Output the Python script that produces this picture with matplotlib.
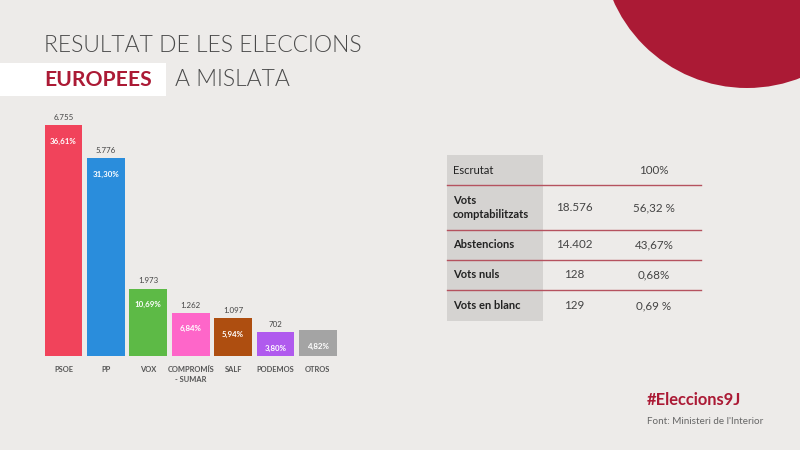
import matplotlib
matplotlib.use("Agg")
import matplotlib.pyplot as plt
from matplotlib.patches import Rectangle, Circle

# ---- data ----
parties = ["PSOE", "PP", "VOX", "COMPROMÍS\n- SUMAR", "SALF", "PODEMOS", "OTROS"]
votes = [6755, 5776, 1973, 1262, 1097, 702, 750]
vote_labels = ["6.755", "5.776", "1.973", "1.262", "1.097", "702", ""]
pct_labels = ["36,61%", "31,30%", "10,69%", "6,84%", "5,94%", "3,80%", "4,82%"]
bar_colors = ["#F1435B", "#2A8DDC", "#5DBA46", "#FE66C9", "#AE4E10", "#B05AEE", "#A4A4A4"]

table_labels = ["Escrutat", "Vots\ncomptabilitzats", "Abstencions", "Vots nuls", "Vots en blanc"]
table_counts = ["", "18.576", "14.402", "128", "129"]
table_pcts = ["100%", "56,32 %", "43,67%", "0,68%", "0,69 %"]

BG = "#EDEBE9"
RED = "#AB1A35"
FONT = ["Lato", "DejaVu Sans"]
plt.rcParams['font.family'] = FONT

W, H = 800, 450
fig = plt.figure(figsize=(8, 4.5), dpi=100, facecolor=BG)

# overlay axes in pixel coordinates for layout elements
ov = fig.add_axes([0, 0, 1, 1], facecolor=BG)
ov.set_xlim(0, W)
ov.set_ylim(H, 0)
ov.axis("off")

# red circle top right
ov.add_patch(Circle((747, -58), 146, color=RED, lw=0, zorder=1))

# titles
ov.text(44, 46, "RESULTAT DE LES ELECCIONS", fontsize=16.5, fontweight=300,
        color="#4A4A4A", va="center", ha="left")
ov.add_patch(Rectangle((0, 63), 166, 33, color="white", lw=0))
ov.text(44, 80, "EUROPEES", fontsize=15.2, fontweight="bold", color=RED,
        va="center", ha="left")
ov.text(175, 80, "A MISLATA", fontsize=16.5, fontweight=300, color="#4A4A4A",
        va="center", ha="left")

# table
row_edges = [155, 185, 230, 260, 290, 321]
ov.add_patch(Rectangle((447, 155), 96, 321 - 155, color="#D5D3D1", lw=0, zorder=1))
for y in row_edges[1:-1]:
    ov.plot([447, 701], [y, y], color="#B5525F", lw=1.0, zorder=2)
for i, lab in enumerate(table_labels):
    yc = (row_edges[i] + row_edges[i + 1]) / 2
    ov.text(453, yc, lab, fontsize=8.0, fontweight="normal" if i == 0 else "bold",
            color="#222222", va="center", ha="left", linespacing=1.35, zorder=3)
    ov.text(574, yc, table_counts[i], fontsize=8.4, color="#444444",
            va="center", ha="center", zorder=3)
    ov.text(654, yc, table_pcts[i], fontsize=8.4, color="#444444",
            va="center", ha="center", zorder=3)

# footer
ov.text(647, 400, "#Eleccions9J", fontsize=11.9, fontweight="bold", color=RED,
        va="center", ha="left")
ov.text(647, 421, "Font: Ministeri de l'Interior", fontsize=7.1, color="#666666",
        va="center", ha="left")

# bar chart axes
left_px, right_px = 42.3, 339.1
bottom_px, top_px = 356, 356 - 239.4
ax = fig.add_axes([left_px / W, (H - bottom_px) / H, (right_px - left_px) / W,
                   (bottom_px - top_px) / H])
ax.set_facecolor("none")
ax.set_xlim(-0.5, 6.5)
ax.set_ylim(0, 7000)
ax.axis("off")
x = list(range(len(parties)))
ax.bar(x, votes, width=0.89, color=bar_colors, lw=0)
for i in x:
    if vote_labels[i]:
        ax.annotate(vote_labels[i], (i, votes[i]), xytext=(0, 3),
                    textcoords="offset points", ha="center", va="bottom",
                    fontsize=5.7, color="#444444")
    ax.annotate(pct_labels[i], (i, votes[i]), xytext=(0, -11.5),
                textcoords="offset points", ha="center", va="center",
                fontsize=5.7, fontweight="bold", color="white")
    ax.annotate(parties[i], (i, 0), xytext=(0, -7.5), textcoords="offset points",
                ha="center", va="top", fontsize=5.4, fontweight="bold",
                color="#555555", linespacing=1.4)

fig.savefig("out.png", dpi=100, facecolor=BG)
